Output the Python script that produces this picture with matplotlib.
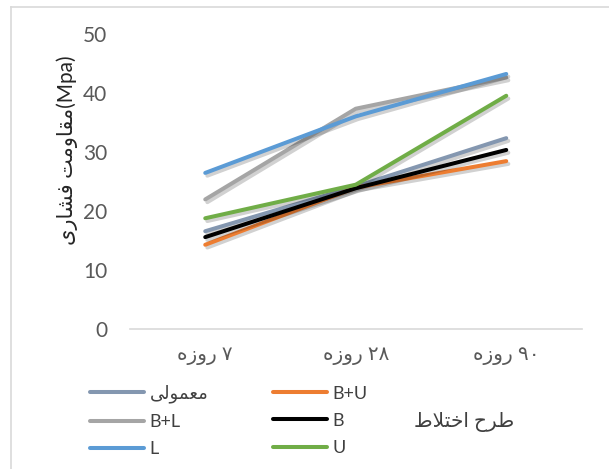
import matplotlib
matplotlib.use("Agg")
import matplotlib.pyplot as plt
import matplotlib.patheffects as pe
from matplotlib.lines import Line2D
import numpy as np

plt.rcParams['font.family'] = ['Lato', 'DejaVu Sans']

# ---------------------------------------------------------
# Data: compressive strength (MPa) by curing age
# ---------------------------------------------------------
ages = ['۷ روزه', '۲۸ روزه', '۹۰ روزه']
series_names = ['معمولی', 'B+U', 'B+L', 'B', 'L', 'U']
plain = [16.6, 24.2, 32.4]
b_u = [14.3, 24.0, 28.5]
b_l = [22.0, 37.4, 42.7]
b_only = [15.6, 23.9, 30.4]
l_only = [26.5, 36.1, 43.3]
u_only = [18.8, 24.5, 39.6]
series_values = [plain, b_u, b_l, b_only, l_only, u_only]
series_colors = ['#8497B0', '#ED7D31', '#A5A5A5', '#000000', '#5B9BD5', '#70AD47']

ylabel_fa = 'مقاومت فشاری'
legend_title = 'طرح اختلاط'

# ---------------------------------------------------------
# Tiny Persian shaper (matplotlib does no Arabic shaping / bidi)
# forms: isolated, final, initial, medial
# ---------------------------------------------------------
FORMS = {
    'ا': ('\uFE8D', '\uFE8E', None, None),
    'ت': ('\uFE95', '\uFE96', '\uFE97', '\uFE98'),
    'ح': ('\uFEA1', '\uFEA2', '\uFEA3', '\uFEA4'),
    'خ': ('\uFEA5', '\uFEA6', '\uFEA7', '\uFEA8'),
    'ر': ('\uFEAD', '\uFEAE', None, None),
    'ز': ('\uFEAF', '\uFEB0', None, None),
    'ش': ('\uFEB5', '\uFEB6', '\uFEB7', '\uFEB8'),
    'ط': ('\uFEC1', '\uFEC2', '\uFEC3', '\uFEC4'),
    'ع': ('\uFEC9', '\uFECA', '\uFECB', '\uFECC'),
    'ف': ('\uFED1', '\uFED2', '\uFED3', '\uFED4'),
    'ق': ('\uFED5', '\uFED6', '\uFED7', '\uFED8'),
    'ل': ('\uFEDD', '\uFEDE', '\uFEDF', '\uFEE0'),
    'م': ('\uFEE1', '\uFEE2', '\uFEE3', '\uFEE4'),
    'ه': ('\uFEE9', '\uFEEA', '\uFEEB', '\uFEEC'),
    'و': ('\uFEED', '\uFEEE', None, None),
    'ی': ('\uFEEF', '\uFEF0', '\uFBFE', '\uFBFF'),
}
LAM_ALEF = ('\uFEFB', '\uFEFC')


def joins_forward(ch):
    return ch in FORMS and FORMS[ch][2] is not None


def shape_word(word):
    out = []
    i = 0
    while i < len(word):
        ch = word[i]
        prev = word[i - 1] if i > 0 else ''
        join_prev = joins_forward(prev)
        if ch == 'ل' and i + 1 < len(word) and word[i + 1] == 'ا':
            out.append(LAM_ALEF[1] if join_prev else LAM_ALEF[0])
            i += 2
            continue
        if ch not in FORMS:
            out.append(ch)
            i += 1
            continue
        nxt = word[i + 1] if i + 1 < len(word) else ''
        join_next = joins_forward(ch) and nxt in FORMS
        iso, fin, ini, med = FORMS[ch]
        if join_prev and join_next:
            out.append(med)
        elif join_prev:
            out.append(fin)
        elif join_next:
            out.append(ini)
        else:
            out.append(iso)
        i += 1
    return ''.join(out)


def is_fa_digit(ch):
    return '\u06F0' <= ch <= '\u06F9'


def fa(text):
    # shape each word, then lay out right-to-left keeping digit runs LTR
    tokens = []
    buf = ''
    for ch in text:
        if buf and is_fa_digit(ch) != is_fa_digit(buf[-1]):
            tokens.append(buf)
            buf = ''
        buf += ch
    if buf:
        tokens.append(buf)
    visual = []
    for tok in reversed(tokens):
        if is_fa_digit(tok[0]):
            visual.append(tok)
        else:
            visual.append(' '.join(shape_word(w) for w in tok.split(' '))[::-1])
    return ''.join(visual)


# ---------------------------------------------------------
# Figure
# ---------------------------------------------------------
W, H = 609, 469
fig = plt.figure(figsize=(W / 100, H / 100), dpi=100)
fig.patch.set_facecolor('white')

# frame edges along the top and left
fig.add_artist(Line2D([11 / W, 1], [1 - 7 / H, 1 - 7 / H], color='#D9D9D9', lw=1.2))
fig.add_artist(Line2D([11 / W, 11 / W], [0, 1 - 7 / H], color='#D9D9D9', lw=1.2))

ax = fig.add_axes([130 / W, 1 - 329 / H, 451.5 / W, 294.5 / H])
x = np.arange(len(ages))

shadow = [pe.SimpleLineShadow(offset=(1.5, -2), shadow_color='black', alpha=0.18),
          pe.Normal()]
for vals, color in zip(series_values, series_colors):
    ax.plot(x, vals, color=color, lw=2.9, solid_capstyle='round',
            solid_joinstyle='round', path_effects=shadow)

ax.set_xlim(-0.5, 2.5)
ax.set_ylim(0, 50)
ax.set_yticks(np.arange(0, 51, 10))
ax.set_xticks(x)
ax.set_xticklabels([fa(a) for a in ages], fontsize=14.5, color='#595959')
ax.tick_params(axis='y', length=0, pad=16.5, labelsize=15, labelcolor='#595959')
ax.tick_params(axis='x', length=0, pad=13)
for side in ['top', 'right', 'left']:
    ax.spines[side].set_visible(False)
ax.spines['bottom'].set_color('#D9D9D9')
ax.spines['bottom'].set_linewidth(1.2)

fig.text(67 / W, 1 - 150 / H, fa(ylabel_fa) + '(Mpa)', rotation=90,
         ha='center', va='center', fontsize=15, color='#262626')

# legend: Excel fills rows first, matplotlib fills columns first
order = [0, 2, 4, 1, 3, 5]
handles = [Line2D([], [], color=series_colors[k], lw=2.9, solid_capstyle='round')
           for k in order]
labels = [fa(series_names[k]) if k == 0 else series_names[k] for k in order]
fig.legend(handles, labels, ncol=2, loc='center left',
           bbox_to_anchor=(74 / W, 1 - 421 / H), frameon=False,
           fontsize=13, handlelength=3.0, handletextpad=0.28,
           columnspacing=3.6, labelspacing=0.62, labelcolor='#404040')
fig.text(464 / W, 1 - 422 / H, fa(legend_title), ha='center', va='center',
         fontsize=14.5, color='#404040')

fig.savefig('out.png', dpi=100)
